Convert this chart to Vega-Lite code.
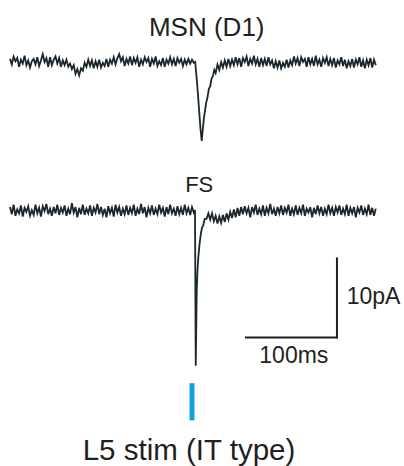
{
  "$schema": "https://vega.github.io/schema/vega-lite/v6.json",
  "width": 404,
  "height": 466,
  "padding": 0,
  "autosize": {"type": "none"},
  "background": "white",
  "config": {"view": {"stroke": null}, "text": {"font": "Liberation Sans", "color": "#231f20"}},
  "datasets": {
    "msn": [
      {"t":0,"v":0.4},{"t":2,"v":-0.3},{"t":4,"v":0.7},{"t":6,"v":0.1},{"t":8,"v":0.5},{"t":10,"v":-0.6},{"t":12,"v":0.3},{"t":14,"v":-0.2},{"t":16,"v":0.8},{"t":18,"v":-0.4},
      {"t":20,"v":0.2},{"t":22,"v":-0.7},{"t":24,"v":0.1},{"t":26,"v":0.4},{"t":28,"v":-0.3},{"t":30,"v":0.6},{"t":32,"v":-0.5},{"t":34,"v":0.2},{"t":36,"v":1.0},{"t":38,"v":0.0},
      {"t":40,"v":0.5},{"t":42,"v":-0.6},{"t":44,"v":0.6},{"t":46,"v":-0.4},{"t":48,"v":0.3},{"t":50,"v":0.7},{"t":52,"v":-0.2},{"t":54,"v":0.5},{"t":56,"v":-0.6},{"t":58,"v":0.2},
      {"t":60,"v":-0.4},{"t":62,"v":0.3},{"t":64,"v":-0.6},{"t":66,"v":-0.2},{"t":68,"v":-0.9},{"t":70,"v":-0.4},{"t":72,"v":-1.5},{"t":74,"v":-0.9},{"t":76,"v":-1.7},{"t":78,"v":-0.8},
      {"t":80,"v":-1.1},{"t":82,"v":-0.1},{"t":84,"v":-0.6},{"t":86,"v":0.3},{"t":88,"v":-0.5},{"t":90,"v":0.2},{"t":92,"v":-0.8},{"t":94,"v":0.1},{"t":96,"v":-0.6},{"t":98,"v":0.3},
      {"t":100,"v":-0.7},{"t":102,"v":-0.1},{"t":104,"v":-0.5},{"t":106,"v":0.4},{"t":108,"v":-0.6},{"t":110,"v":0.3},{"t":112,"v":-0.2},{"t":114,"v":0.6},{"t":116,"v":-0.3},{"t":118,"v":0.5},
      {"t":120,"v":1.0},{"t":122,"v":0.1},{"t":124,"v":0.6},{"t":126,"v":-0.5},{"t":128,"v":0.4},{"t":130,"v":-0.2},{"t":132,"v":0.7},{"t":134,"v":-0.4},{"t":136,"v":0.5},{"t":138,"v":-0.1},
      {"t":140,"v":0.6},{"t":142,"v":-0.6},{"t":144,"v":0.3},{"t":146,"v":-0.3},{"t":148,"v":0.6},{"t":150,"v":0.0},{"t":152,"v":0.5},{"t":154,"v":-0.6},{"t":156,"v":0.4},{"t":158,"v":-0.2},
      {"t":160,"v":0.7},{"t":162,"v":-0.5},{"t":164,"v":0.1},{"t":166,"v":-0.4},{"t":168,"v":0.5},{"t":170,"v":-0.6},{"t":172,"v":0.3},{"t":174,"v":-0.2},{"t":176,"v":0.6},{"t":178,"v":-0.3},
      {"t":180,"v":0.4},{"t":182,"v":-0.5},{"t":184,"v":0.5},{"t":186,"v":-0.1},{"t":188,"v":0.4},{"t":190,"v":-0.5},{"t":192,"v":0.3},{"t":194,"v":-0.3},{"t":196,"v":0.4},{"t":198,"v":-0.2},
      {"t":200,"v":0.3},{"t":202,"v":-0.1},{"t":203.5,"v":0.0},{"t":205,"v":-1.9},{"t":206.5,"v":-4.0},{"t":208,"v":-6.4},{"t":209.5,"v":-8.7},{"t":210.7,"v":-10.0},{"t":211.8,"v":-8.6},{"t":213,"v":-7.2},
      {"t":214,"v":-6.4},{"t":215.5,"v":-5.2},{"t":217,"v":-4.5},{"t":218.5,"v":-3.4},{"t":220,"v":-3.1},{"t":221.5,"v":-2.1},{"t":223,"v":-1.8},{"t":224.5,"v":-1.0},{"t":226,"v":-1.4},{"t":228,"v":-0.3},
      {"t":230,"v":-1.0},{"t":232,"v":0.0},{"t":234,"v":-0.7},{"t":236,"v":0.2},{"t":238,"v":-0.6},{"t":240,"v":0.4},{"t":242,"v":-0.5},{"t":244,"v":0.3},{"t":246,"v":-0.4},{"t":248,"v":0.6},
      {"t":250,"v":-0.3},{"t":252,"v":0.5},{"t":254,"v":-0.6},{"t":256,"v":0.5},{"t":258,"v":0.0},{"t":260,"v":0.7},{"t":262,"v":-0.5},{"t":264,"v":0.4},{"t":266,"v":-0.2},{"t":268,"v":0.8},
      {"t":270,"v":-0.3},{"t":272,"v":0.4},{"t":274,"v":-0.6},{"t":276,"v":0.5},{"t":278,"v":-0.4},{"t":280,"v":0.4},{"t":282,"v":-0.5},{"t":284,"v":0.6},{"t":286,"v":-0.3},{"t":288,"v":0.2},
      {"t":290,"v":-0.8},{"t":292,"v":0.1},{"t":294,"v":-0.7},{"t":296,"v":0.2},{"t":298,"v":-0.8},{"t":300,"v":-0.1},{"t":302,"v":-0.6},{"t":304,"v":0.3},{"t":306,"v":-0.7},{"t":308,"v":0.2},
      {"t":310,"v":-0.4},{"t":312,"v":0.7},{"t":314,"v":-0.2},{"t":316,"v":0.5},{"t":318,"v":-0.5},{"t":320,"v":0.6},{"t":322,"v":0.0},{"t":324,"v":0.4},{"t":326,"v":-0.6},{"t":328,"v":0.6},
      {"t":330,"v":-0.3},{"t":332,"v":0.4},{"t":334,"v":-0.5},{"t":336,"v":0.8},{"t":338,"v":-0.3},{"t":340,"v":0.3},{"t":342,"v":-0.6},{"t":344,"v":0.5},{"t":346,"v":-0.1},{"t":348,"v":0.6},
      {"t":350,"v":-0.5},{"t":352,"v":0.4},{"t":354,"v":-0.4},{"t":356,"v":0.5},{"t":358,"v":-0.7},{"t":360,"v":0.2},{"t":362,"v":-0.3},{"t":364,"v":0.6},{"t":366,"v":-0.5},{"t":368,"v":0.3},
      {"t":370,"v":-0.8},{"t":372,"v":0.1},{"t":374,"v":-0.5},{"t":376,"v":0.4},{"t":378,"v":-0.7},{"t":380,"v":0.3},{"t":382,"v":-0.3},{"t":384,"v":0.6},{"t":386,"v":-0.6},{"t":388,"v":0.2},
      {"t":390,"v":-0.8},{"t":392,"v":0.3},{"t":394,"v":-0.4},{"t":396,"v":0.5},{"t":398,"v":-0.7},{"t":400,"v":0.3},{"t":402,"v":-0.4}
    ],
    "fs": [
      {"t":0,"v":0.5},{"t":2,"v":-0.4},{"t":4,"v":0.8},{"t":6,"v":-0.6},{"t":8,"v":0.2},{"t":10,"v":-0.3},{"t":12,"v":0.7},{"t":14,"v":-0.7},{"t":16,"v":0.4},{"t":18,"v":-0.1},
      {"t":20,"v":0.6},{"t":22,"v":-0.6},{"t":24,"v":0.1},{"t":26,"v":-0.5},{"t":28,"v":0.8},{"t":30,"v":-0.3},{"t":32,"v":0.4},{"t":34,"v":-0.7},{"t":36,"v":0.6},{"t":38,"v":0.0},
      {"t":40,"v":0.9},{"t":42,"v":-0.4},{"t":44,"v":0.3},{"t":46,"v":-0.6},{"t":48,"v":0.5},{"t":50,"v":-0.3},{"t":52,"v":0.8},{"t":54,"v":-0.5},{"t":56,"v":0.4},{"t":58,"v":-0.2},
      {"t":60,"v":0.7},{"t":62,"v":-0.6},{"t":64,"v":0.3},{"t":66,"v":-0.4},{"t":68,"v":1.0},{"t":70,"v":-0.2},{"t":72,"v":0.5},{"t":74,"v":-0.8},{"t":76,"v":0.4},{"t":78,"v":-0.4},
      {"t":80,"v":0.8},{"t":82,"v":-0.5},{"t":84,"v":0.3},{"t":86,"v":-0.3},{"t":88,"v":0.7},{"t":90,"v":-0.6},{"t":92,"v":0.4},{"t":94,"v":-0.2},{"t":96,"v":0.9},{"t":98,"v":-0.4},
      {"t":100,"v":0.5},{"t":102,"v":-0.5},{"t":104,"v":0.3},{"t":106,"v":-0.8},{"t":108,"v":0.6},{"t":110,"v":-0.3},{"t":112,"v":0.4},{"t":114,"v":-0.7},{"t":116,"v":0.8},{"t":118,"v":-0.2},
      {"t":120,"v":0.5},{"t":122,"v":-0.6},{"t":124,"v":0.3},{"t":126,"v":-0.4},{"t":128,"v":0.7},{"t":130,"v":-0.5},{"t":132,"v":0.4},{"t":134,"v":-0.3},{"t":136,"v":0.8},{"t":138,"v":-0.6},
      {"t":140,"v":0.3},{"t":142,"v":-0.4},{"t":144,"v":0.9},{"t":146,"v":-0.3},{"t":148,"v":0.5},{"t":150,"v":-0.8},{"t":152,"v":0.4},{"t":154,"v":-0.3},{"t":156,"v":0.7},{"t":158,"v":-0.5},
      {"t":160,"v":0.3},{"t":162,"v":-0.4},{"t":164,"v":0.8},{"t":166,"v":-0.2},{"t":168,"v":0.4},{"t":170,"v":-0.7},{"t":172,"v":0.5},{"t":174,"v":-0.4},{"t":176,"v":0.8},{"t":178,"v":-0.3},
      {"t":180,"v":0.3},{"t":182,"v":-0.6},{"t":184,"v":0.6},{"t":186,"v":-0.4},{"t":188,"v":0.4},{"t":190,"v":-0.5},{"t":192,"v":0.8},{"t":194,"v":-0.3},{"t":196,"v":0.4},{"t":198,"v":-0.5},
      {"t":200,"v":0.5},{"t":202,"v":-0.2},{"t":203.3,"v":0.1},{"t":204.1,"v":-19.6},{"t":205.2,"v":-10.1},{"t":206,"v":-7.6},{"t":206.9,"v":-5.9},{"t":208.2,"v":-4.3},{"t":209.6,"v":-3.0},{"t":211,"v":-2.1},
      {"t":212.4,"v":-1.8},{"t":214,"v":-1.0},{"t":216,"v":-1.0},{"t":218,"v":-0.3},{"t":220,"v":-1.1},{"t":222,"v":-0.3},{"t":224,"v":-1.3},{"t":226,"v":-0.6},{"t":228,"v":-1.6},{"t":230,"v":-0.7},
      {"t":232,"v":-1.5},{"t":234,"v":-0.5},{"t":236,"v":-1.4},{"t":238,"v":-0.3},{"t":240,"v":-1.1},{"t":242,"v":-0.1},{"t":244,"v":-0.9},{"t":246,"v":0.2},{"t":248,"v":-0.8},{"t":250,"v":0.4},
      {"t":252,"v":-0.6},{"t":254,"v":0.5},{"t":256,"v":-0.4},{"t":258,"v":0.6},{"t":260,"v":-0.3},{"t":262,"v":0.4},{"t":264,"v":-0.8},{"t":266,"v":0.5},{"t":268,"v":-0.2},{"t":270,"v":0.8},
      {"t":272,"v":-0.5},{"t":274,"v":0.3},{"t":276,"v":-0.4},{"t":278,"v":0.7},{"t":280,"v":-0.6},{"t":282,"v":0.4},{"t":284,"v":-0.3},{"t":286,"v":0.9},{"t":288,"v":-0.4},{"t":290,"v":0.3},
      {"t":292,"v":-0.6},{"t":294,"v":0.5},{"t":296,"v":-0.3},{"t":298,"v":0.7},{"t":300,"v":-0.5},{"t":302,"v":0.4},{"t":304,"v":-0.2},{"t":306,"v":0.8},{"t":308,"v":-0.6},{"t":310,"v":0.3},
      {"t":312,"v":-0.4},{"t":314,"v":0.7},{"t":316,"v":-0.5},{"t":318,"v":0.4},{"t":320,"v":-0.3},{"t":322,"v":0.8},{"t":324,"v":-0.6},{"t":326,"v":0.3},{"t":328,"v":-0.2},{"t":330,"v":0.5},
      {"t":332,"v":-0.8},{"t":334,"v":0.4},{"t":336,"v":-0.4},{"t":338,"v":0.7},{"t":340,"v":-0.3},{"t":342,"v":0.5},{"t":344,"v":-0.6},{"t":346,"v":0.3},{"t":348,"v":-0.4},{"t":350,"v":0.8},
      {"t":352,"v":-0.3},{"t":354,"v":0.4},{"t":356,"v":-0.6},{"t":358,"v":0.5},{"t":360,"v":-0.2},{"t":362,"v":0.7},{"t":364,"v":-0.5},{"t":366,"v":0.3},{"t":368,"v":-0.4},{"t":370,"v":0.8},
      {"t":372,"v":-0.6},{"t":374,"v":0.4},{"t":376,"v":-0.3},{"t":378,"v":0.5},{"t":380,"v":-0.8},{"t":382,"v":0.4},{"t":384,"v":-0.2},{"t":386,"v":0.7},{"t":388,"v":-0.5},{"t":390,"v":0.3},
      {"t":392,"v":-0.4},{"t":394,"v":0.8},{"t":396,"v":-0.5},{"t":398,"v":0.4},{"t":400,"v":-0.6},{"t":402,"v":0.3}
    ]
  },
  "resolve": {"scale": {"y": "independent"}},
  "layer": [
    {
      "data": {"name": "msn"},
      "mark": {"type": "line", "color": "#1c272d", "strokeWidth": 1.8},
      "encoding": {
        "x": {"field": "t", "type": "quantitative", "scale": {"domain": [-10.99, 432.97], "nice": false, "zero": false}, "axis": null},
        "y": {"field": "v", "type": "quantitative", "scale": {"domain": [-51.14, 7.85], "nice": false, "zero": false}, "axis": null}
      }
    },
    {
      "encoding": {
        "x": {"field": "t", "type": "quantitative", "scale": {"domain": [-10.99, 432.97], "nice": false, "zero": false}, "axis": null},
        "y": {"field": "v", "type": "quantitative", "scale": {"domain": [-32.28, 26.71], "nice": false, "zero": false}, "axis": null}
      },
      "layer": [
        {
          "data": {"name": "fs"},
          "mark": {"type": "line", "color": "#1c272d", "strokeWidth": 1.8}
        },
        {
          "data": {"values": [
            {"t": 259.3, "v": -16, "t2": 359.3, "v2": -16},
            {"t": 359.3, "v": -16, "t2": 359.3, "v2": -6}
          ]},
          "mark": {"type": "rule", "color": "#231f20", "strokeWidth": 2, "strokeCap": "square"},
          "encoding": {"x2": {"field": "t2"}, "y2": {"field": "v2"}}
        },
        {
          "data": {"values": [{"t": 200, "v": -21.8, "v2": -26.5}]},
          "mark": {"type": "rule", "color": "#14a0dc", "strokeWidth": 5, "strokeCap": "butt"},
          "encoding": {"y2": {"field": "v2"}}
        },
        {
          "data": {"values": [{"t": 216.2, "v": 22.15, "label": "MSN (D1)"}]},
          "mark": {"type": "text", "fontSize": 26, "align": "center", "baseline": "alphabetic"},
          "encoding": {"text": {"field": "label"}}
        },
        {
          "data": {"values": [{"t": 207.9, "v": 2.4, "label": "FS"}]},
          "mark": {"type": "text", "fontSize": 22, "align": "center", "baseline": "alphabetic"},
          "encoding": {"text": {"field": "label"}}
        },
        {
          "data": {"values": [{"t": 370, "v": -11.77, "label": "10pA"}]},
          "mark": {"type": "text", "fontSize": 23, "align": "left", "baseline": "alphabetic"},
          "encoding": {"text": {"field": "label"}}
        },
        {
          "data": {"values": [{"t": 311.9, "v": -19.28, "label": "100ms"}]},
          "mark": {"type": "text", "fontSize": 23, "align": "center", "baseline": "alphabetic"},
          "encoding": {"text": {"field": "label"}}
        },
        {
          "data": {"values": [{"t": 196.7, "v": -31.52, "label": "L5 stim (IT type)"}]},
          "mark": {"type": "text", "fontSize": 29.5, "align": "center", "baseline": "alphabetic"},
          "encoding": {"text": {"field": "label"}}
        }
      ]
    }
  ]
}
